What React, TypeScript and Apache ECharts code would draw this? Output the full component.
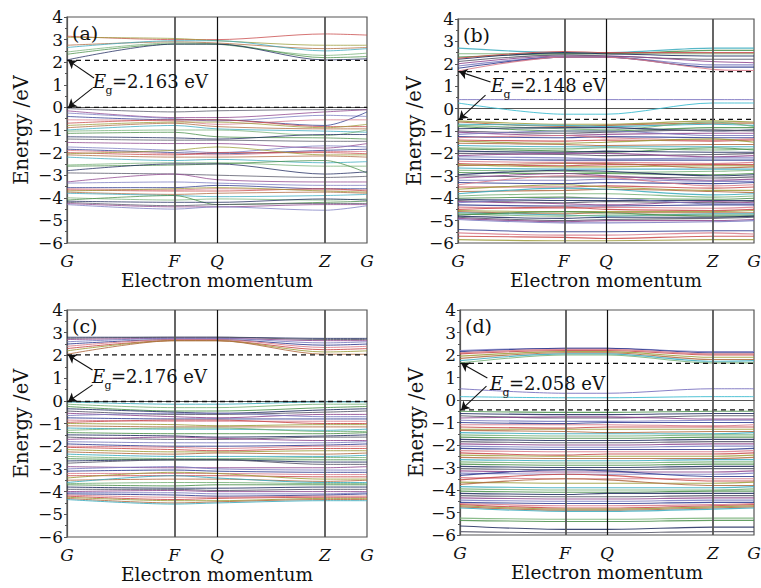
import React, { useEffect, useRef } from "react";
import * as echarts from "echarts";

// ---------- data ----------
const kPoints = [0, 0.357, 0.5, 0.86, 1];
const kLabels = ["G", "F", "Q", "Z", "G"];
const panelTags = ["(a)", "(b)", "(c)", "(d)"];
const gapValues = ["2.163", "2.148", "2.176", "2.058"];
const vbmValues = [0, -0.48, -0.03, -0.44];
const cbmValues = [2.08, 1.65, 2.02, 1.63];

// bands: energies at G, F, Q, Z, G
const cbA = [
  [3.15, 3.0, 3.0, 3.25, 3.2], [3.1, 3.05, 2.95, 2.75, 2.75], [2.75, 2.9, 2.85, 2.6, 2.65],
  [2.65, 2.95, 2.95, 2.5, 2.6], [2.45, 2.85, 2.8, 2.3, 2.4], [2.35, 2.8, 2.8, 2.2, 2.25],
  [2.1, 2.8, 2.8, 2.1, 2.15],
];
const vbA = [
  [-0.05, -0.2, -0.15, -0.1, -0.1], [-0.15, -0.45, -0.45, -0.2, -0.1], [-0.25, -0.5, -0.6, -0.35, -0.4],
  [-0.4, -0.55, -0.55, -0.8, -0.2], [-0.55, -0.6, -0.75, -0.55, -0.55], [-0.7, -0.55, -0.55, -0.85, -0.85],
  [-0.8, -0.65, -0.65, -0.9, -0.75], [-0.9, -0.7, -0.85, -0.95, -0.95], [-1.0, -0.8, -0.95, -1.05, -1.1],
  [-1.05, -1.0, -1.0, -1.25, -1.0], [-1.15, -1.1, -1.3, -1.35, -1.4], [-1.3, -1.35, -1.4, -1.2, -1.2],
  [-1.4, -1.45, -1.45, -1.5, -1.5], [-1.55, -1.6, -1.6, -1.8, -1.6], [-1.75, -1.9, -2.0, -1.7, -1.75],
  [-1.85, -2.0, -2.05, -1.9, -1.85], [-1.9, -2.05, -2.1, -1.95, -1.95], [-2.0, -2.1, -2.0, -2.0, -2.05],
  [-2.05, -1.9, -1.75, -2.1, -2.1], [-2.1, -2.2, -2.2, -2.15, -2.2], [-2.2, -2.35, -2.3, -2.45, -2.4],
  [-2.55, -2.45, -2.45, -2.6, -2.6], [-2.6, -2.55, -2.5, -2.35, -2.9], [-2.8, -2.5, -2.5, -2.95, -2.85],
  [-2.9, -2.95, -3.0, -3.1, -3.05], [-3.3, -2.95, -3.2, -3.3, -3.3], [-3.35, -3.3, -3.35, -3.45, -3.45],
  [-3.55, -3.55, -3.45, -3.6, -3.6], [-3.6, -3.65, -3.6, -3.65, -3.65], [-3.65, -3.7, -3.7, -3.6, -3.7],
  [-3.7, -3.6, -3.55, -3.7, -3.75], [-3.75, -3.85, -3.8, -3.75, -3.8], [-3.8, -3.9, -3.95, -3.9, -3.85],
  [-4.0, -4.1, -4.05, -4.1, -4.05], [-4.1, -3.9, -4.3, -4.2, -4.15], [-4.15, -4.2, -4.2, -4.05, -4.1],
  [-4.2, -4.35, -4.3, -4.25, -4.25], [-4.25, -4.4, -4.4, -4.3, -4.3], [-4.3, -4.5, -4.4, -4.55, -4.35],
];
const cbB = [
  [2.7, 2.5, 2.5, 2.7, 2.7], [2.45, 2.45, 2.45, 2.45, 2.45], [2.3, 2.45, 2.45, 2.6, 2.6],
  [2.2, 2.5, 2.45, 2.35, 2.35], [2.1, 2.4, 2.35, 2.2, 2.2], [2.0, 2.35, 2.35, 2.1, 2.05],
  [1.9, 2.3, 2.3, 1.95, 1.95], [1.8, 2.3, 2.3, 1.85, 1.85], [1.68, 2.3, 2.3, 1.75, 1.7],
  [2.25, 2.55, 2.5, 2.5, 2.5],
];
const gapB = [[0.4, 0.4, 0.4, 0.4, 0.4], [0.25, -0.25, -0.25, 0.25, 0.25]];
const vbB = [
  [-0.55, -0.7, -0.7, -0.55, -0.6], [-0.6, -0.8, -0.75, -0.65, -0.65], [-0.7, -0.75, -0.8, -0.7, -0.75],
  [-0.75, -0.9, -0.95, -0.6, -0.8], [-0.8, -1.0, -1.0, -0.85, -0.85], [-0.9, -0.85, -0.85, -1.0, -0.95],
  [-1.0, -1.1, -1.05, -0.95, -1.0], [-1.05, -1.2, -1.15, -1.1, -1.1], [-1.15, -1.0, -1.0, -1.2, -1.2],
  [-1.25, -1.3, -1.25, -1.3, -1.3], [-1.3, -1.2, -1.3, -1.4, -1.35], [-1.4, -1.45, -1.4, -1.45, -1.4],
  [-1.45, -1.55, -1.5, -1.35, -1.5], [-1.55, -1.6, -1.65, -1.6, -1.6], [-1.65, -1.7, -1.7, -1.7, -1.7],
  [-1.75, -1.8, -1.75, -1.85, -1.8], [-1.8, -1.9, -1.95, -1.75, -1.85], [-1.9, -1.95, -1.9, -1.95, -1.95],
  [-2.0, -2.05, -2.1, -2.05, -2.0], [-2.1, -2.0, -2.0, -2.15, -2.1], [-2.15, -2.2, -2.25, -2.2, -2.2],
  [-2.25, -2.3, -2.3, -2.3, -2.3], [-2.35, -2.4, -2.4, -2.45, -2.4], [-2.45, -2.55, -2.5, -2.5, -2.5],
  [-2.5, -2.6, -2.6, -2.55, -2.55], [-2.55, -2.45, -2.45, -2.65, -2.6], [-2.65, -2.7, -2.7, -2.7, -2.7],
  [-2.75, -2.8, -2.85, -2.8, -2.75], [-2.85, -2.9, -2.9, -2.95, -2.9], [-2.95, -2.75, -2.8, -3.0, -2.95],
  [-3.0, -3.05, -3.05, -3.1, -3.05], [-3.1, -2.9, -3.0, -3.2, -3.15], [-3.2, -3.2, -3.15, -3.25, -3.25],
  [-3.3, -3.35, -3.3, -3.35, -3.3], [-3.4, -3.0, -3.05, -3.45, -3.4], [-3.5, -3.5, -3.45, -3.55, -3.5],
  [-3.6, -3.4, -3.5, -3.65, -3.65], [-3.7, -3.65, -3.6, -3.7, -3.75], [-3.8, -3.55, -3.6, -3.85, -3.8],
  [-3.9, -3.8, -3.8, -3.95, -3.9], [-4.0, -3.95, -4.0, -4.05, -4.0], [-4.05, -4.1, -4.1, -4.1, -4.1],
  [-4.1, -4.2, -4.15, -4.2, -4.15], [-4.15, -4.25, -4.3, -4.15, -4.2], [-4.2, -4.0, -4.0, -4.25, -4.25],
  [-4.3, -4.35, -4.35, -4.3, -4.3], [-4.4, -4.45, -4.4, -4.45, -4.4], [-4.5, -4.4, -4.5, -4.55, -4.5],
  [-4.55, -4.6, -4.6, -4.6, -4.55], [-4.6, -4.7, -4.65, -4.65, -4.65], [-4.65, -4.75, -4.8, -4.7, -4.7],
  [-4.7, -4.8, -4.75, -4.75, -4.75], [-4.75, -4.6, -4.65, -4.8, -4.8], [-4.8, -4.9, -4.85, -4.85, -4.8],
  [-4.85, -5.0, -4.95, -4.9, -4.85], [-4.9, -5.05, -5.0, -5.0, -4.95], [-4.95, -5.1, -5.1, -5.05, -5.0],
  [-5.4, -5.5, -5.5, -5.45, -5.45], [-5.55, -5.65, -5.65, -5.55, -5.6], [-5.7, -5.75, -5.8, -5.7, -5.7],
  [-5.85, -5.9, -5.9, -5.85, -5.85],
];
const cbC = [
  [2.8, 2.8, 2.8, 2.75, 2.75], [2.75, 2.8, 2.8, 2.7, 2.7], [2.7, 2.75, 2.75, 2.65, 2.65],
  [2.6, 2.75, 2.75, 2.55, 2.6], [2.5, 2.7, 2.7, 2.45, 2.5], [2.4, 2.7, 2.7, 2.35, 2.4],
  [2.3, 2.65, 2.65, 2.25, 2.3], [2.2, 2.65, 2.65, 2.15, 2.2], [2.05, 2.65, 2.65, 2.05, 2.05],
];
const vbC = [
  [-0.05, -0.15, -0.15, -0.05, -0.05], [-0.15, -0.3, -0.3, -0.15, -0.15], [-0.25, -0.45, -0.45, -0.3, -0.25],
  [-0.35, -0.5, -0.55, -0.4, -0.35], [-0.45, -0.6, -0.6, -0.5, -0.45], [-0.55, -0.7, -0.75, -0.6, -0.6],
  [-0.65, -0.55, -0.55, -0.7, -0.7], [-0.75, -0.8, -0.8, -0.8, -0.8], [-0.85, -0.9, -0.9, -0.9, -0.9],
  [-0.95, -0.85, -0.85, -1.0, -1.0], [-1.0, -1.05, -1.1, -1.05, -1.05], [-1.1, -1.15, -1.15, -1.15, -1.15],
  [-1.2, -1.25, -1.25, -1.3, -1.25], [-1.3, -1.2, -1.2, -1.35, -1.35], [-1.4, -1.45, -1.45, -1.45, -1.4],
  [-1.5, -1.55, -1.6, -1.55, -1.5], [-1.6, -1.7, -1.7, -1.6, -1.6], [-1.7, -1.6, -1.65, -1.75, -1.75],
  [-1.8, -1.85, -1.85, -1.85, -1.8], [-1.9, -2.0, -2.0, -1.95, -1.9], [-2.0, -2.05, -2.1, -2.0, -2.0],
  [-2.05, -2.15, -2.2, -2.1, -2.1], [-2.15, -2.25, -2.25, -2.2, -2.2], [-2.25, -2.35, -2.3, -2.35, -2.3],
  [-2.35, -2.45, -2.45, -2.45, -2.4], [-2.45, -2.55, -2.55, -2.5, -2.5], [-2.55, -2.6, -2.6, -2.6, -2.6],
  [-2.65, -2.6, -2.6, -2.7, -2.7], [-2.75, -2.6, -2.6, -2.8, -2.8], [-2.9, -2.95, -2.95, -2.95, -2.9],
  [-3.0, -2.9, -3.0, -3.05, -3.05], [-3.1, -3.05, -3.1, -3.15, -3.15], [-3.2, -3.2, -3.2, -3.25, -3.25],
  [-3.3, -3.3, -3.3, -3.35, -3.35], [-3.4, -3.15, -3.2, -3.45, -3.45], [-3.5, -3.45, -3.45, -3.55, -3.5],
  [-3.6, -3.3, -3.4, -3.6, -3.6], [-3.65, -3.6, -3.6, -3.65, -3.65], [-3.7, -3.75, -3.7, -3.7, -3.7],
  [-3.8, -3.85, -3.85, -3.8, -3.8], [-3.9, -3.9, -3.95, -3.9, -3.9], [-4.0, -3.95, -4.0, -4.0, -4.0],
  [-4.05, -4.05, -4.1, -4.1, -4.05], [-4.1, -4.15, -4.2, -4.15, -4.1], [-4.15, -4.25, -4.25, -4.2, -4.2],
  [-4.2, -4.35, -4.3, -4.25, -4.25], [-4.25, -4.4, -4.4, -4.3, -4.3], [-4.3, -4.5, -4.45, -4.35, -4.35],
  [-4.35, -4.55, -4.5, -4.4, -4.4],
];
const cbD = [
  [2.2, 2.3, 2.3, 2.15, 2.15], [2.15, 2.3, 2.3, 2.1, 2.1], [2.1, 2.25, 2.25, 2.05, 2.05],
  [2.05, 2.2, 2.2, 2.0, 2.0], [1.95, 2.15, 2.15, 1.9, 1.9], [1.85, 2.1, 2.1, 1.8, 1.8],
  [1.75, 2.05, 2.05, 1.72, 1.75], [1.65, 2.0, 2.0, 1.65, 1.65],
];
const gapD = [[0.5, 0.3, 0.3, 0.5, 0.5], [0.15, 0.1, 0.1, 0.15, 0.15]];
const vbD = [
  [-0.5, -0.55, -0.55, -0.5, -0.5], [-0.6, -0.65, -0.65, -0.6, -0.6], [-0.7, -0.8, -0.8, -0.7, -0.7],
  [-0.8, -0.75, -0.75, -0.85, -0.85], [-0.9, -0.95, -0.95, -0.9, -0.9], [-1.0, -1.05, -1.0, -1.0, -1.0],
  [-1.1, -1.1, -1.1, -1.15, -1.1], [-1.2, -1.25, -1.2, -1.2, -1.2], [-1.3, -1.3, -1.3, -1.3, -1.3],
  [-1.35, -1.4, -1.45, -1.4, -1.4], [-1.45, -1.5, -1.5, -1.5, -1.45], [-1.55, -1.6, -1.6, -1.55, -1.55],
  [-1.65, -1.7, -1.7, -1.65, -1.65], [-1.75, -1.8, -1.8, -1.75, -1.75], [-1.85, -1.9, -1.9, -1.85, -1.85],
  [-1.95, -2.0, -2.0, -1.95, -1.95], [-2.05, -2.1, -2.1, -2.05, -2.05], [-2.15, -2.2, -2.2, -2.2, -2.15],
  [-2.25, -2.3, -2.3, -2.3, -2.25], [-2.35, -2.45, -2.4, -2.4, -2.35], [-2.45, -2.5, -2.5, -2.5, -2.45],
  [-2.55, -2.6, -2.6, -2.6, -2.55], [-2.65, -2.7, -2.7, -2.65, -2.65], [-2.75, -2.8, -2.8, -2.75, -2.75],
  [-2.85, -2.9, -2.9, -2.85, -2.85], [-2.95, -3.0, -3.0, -2.95, -2.95], [-3.05, -3.1, -3.1, -3.05, -3.05],
  [-3.15, -3.2, -3.2, -3.2, -3.15], [-3.25, -3.3, -3.3, -3.3, -3.25], [-3.35, -3.1, -3.15, -3.4, -3.4],
  [-3.45, -3.5, -3.5, -3.5, -3.5], [-3.55, -3.3, -3.35, -3.6, -3.6], [-3.65, -3.7, -3.7, -3.7, -3.65],
  [-3.75, -3.5, -3.55, -3.8, -3.8], [-3.85, -3.9, -3.9, -3.9, -3.85], [-3.95, -4.0, -4.0, -4.0, -3.95],
  [-4.05, -4.1, -4.1, -4.05, -4.05], [-4.15, -4.2, -4.15, -4.15, -4.15], [-4.25, -4.3, -4.3, -4.25, -4.25],
  [-4.35, -4.4, -4.4, -4.35, -4.35], [-4.45, -4.5, -4.5, -4.45, -4.45], [-4.55, -4.6, -4.6, -4.55, -4.55],
  [-4.6, -4.7, -4.7, -4.65, -4.6], [-4.65, -4.8, -4.8, -4.7, -4.65], [-4.7, -4.85, -4.85, -4.75, -4.7],
  [-4.75, -4.9, -4.9, -4.8, -4.75], [-4.8, -4.95, -4.95, -4.85, -4.8], [-5.25, -5.3, -5.3, -5.25, -5.25],
  [-5.35, -5.4, -5.4, -5.35, -5.35], [-5.6, -5.75, -5.75, -5.65, -5.65], [-5.85, -5.9, -5.9, -5.85, -5.85],
];

const panelBands = [
  [...cbA, ...vbA],
  [...cbB, ...vbB],
  [...cbC, ...vbC],
  [...cbD, ...vbD],
];
const panelGapStates = [[], gapB, [], gapD];

// ---------- layout / style ----------
const FONT = "DejaVu Serif";
const grids = [
  { left: 67, top: 17, width: 300, height: 226, nameGapY: 36, lw: 0.9 },
  { left: 458, top: 19, width: 296, height: 224, nameGapY: 34, lw: 1.1 },
  { left: 67, top: 310, width: 300, height: 227, nameGapY: 36, lw: 1.0 },
  { left: 460, top: 310, width: 294, height: 225, nameGapY: 34, lw: 1.1 },
];
// arrow tails (data coords) for upper and lower arrows
const arrowTails = [
  [[0.09, 1.3], [0.085, 0.85]],
  [[0.11, 1.19], [0.093, 0.6]],
  [[0.085, 1.36], [0.085, 0.7]],
  [[0.093, 0.98], [0.09, 0.62]],
];
const eTextPos = [
  [93, 81], [491, 85], [92, 376], [490, 383],
];
const palette = [
  "#c84848", "#4a8f4a", "#2e3a8e", "#3aaabd", "#8e468e", "#9c9c3a",
  "#1f2a5e", "#d87a8a", "#76b076", "#7a7ac0", "#b06a40", "#555566",
];
const gapColors = ["#7a72c0", "#40bcd0"];

function txt(text: string, x: number, y: number, size: number, italic = false) {
  return {
    type: "text",
    x,
    y,
    z: 10,
    style: {
      text,
      fontFamily: FONT,
      fontSize: size,
      fontStyle: italic ? "italic" : "normal",
      fill: "#111",
      verticalAlign: "middle",
    },
  };
}

function buildOption() {
  const series: any[] = [];
  const graphic: any[] = [];
  grids.forEach((g, i) => {
    panelBands[i].forEach((band, j) => {
      series.push({
        type: "line",
        xAxisIndex: i,
        yAxisIndex: i,
        data: band.map((e, k) => [kPoints[k], e]),
        symbol: "none",
        smooth: 0.3,
        silent: true,
        z: 2,
        lineStyle: { width: g.lw, color: palette[(j * 5 + i * 3) % palette.length], opacity: 0.85 },
      });
    });
    panelGapStates[i].forEach((band, j) => {
      series.push({
        type: "line",
        xAxisIndex: i,
        yAxisIndex: i,
        data: band.map((e, k) => [kPoints[k], e]),
        symbol: "none",
        smooth: 0.3,
        silent: true,
        z: 2,
        lineStyle: { width: 1, color: gapColors[j], opacity: 0.9 },
      });
    });
    [vbmValues[i], cbmValues[i]].forEach((e) => {
      series.push({
        type: "line",
        xAxisIndex: i,
        yAxisIndex: i,
        data: [[0, e], [1, e]],
        symbol: "none",
        silent: true,
        z: 4,
        lineStyle: { width: 1.3, color: "#111", type: [5, 4] },
      });
    });
    const tails = arrowTails[i];
    series.push({
      type: "line",
      xAxisIndex: i,
      yAxisIndex: i,
      data: [],
      silent: true,
      z: 5,
      markLine: {
        silent: true,
        symbol: "none",
        symbolSize: 8,
        label: { show: false },
        data: [
          ...kPoints.slice(1, 4).map((x, k) => ({
            xAxis: x,
            lineStyle: { color: k === 1 ? "#111" : "#555", width: k === 1 ? 1.2 : 1.8, type: "solid" },
          })),
          [
            { coord: tails[0], symbol: "none", lineStyle: { color: "#111", width: 1.1, type: "solid" } },
            { coord: [0.004, cbmValues[i]], symbol: "arrow" },
          ],
          [
            { coord: tails[1], symbol: "none", lineStyle: { color: "#111", width: 1.1, type: "solid" } },
            { coord: [0.004, vbmValues[i]], symbol: "arrow" },
          ],
        ],
      },
    });
    const [ex, ey] = eTextPos[i];
    graphic.push(
      txt("E", ex, ey, 18, true),
      txt("g", ex + 12.5, ey + 9, 11),
      txt(`=${gapValues[i]} eV`, ex + 19, ey, 18),
      txt(panelTags[i], g.left + 5, g.top + 16, 19)
    );
  });

  return {
    animation: false,
    backgroundColor: "#fff",
    textStyle: { fontFamily: FONT },
    grid: grids.map((g) => ({
      left: g.left, top: g.top, width: g.width, height: g.height,
      show: true, borderColor: "#555", borderWidth: 1.2,
      outerBoundsMode: "none", containLabel: false,
    })),
    xAxis: grids.map((g, i) => ({
      type: "value",
      gridIndex: i,
      min: 0,
      max: 1,
      name: "Electron momentum",
      nameLocation: "middle",
      nameGap: 28,
      nameTextStyle: { fontFamily: FONT, fontSize: 18.5, color: "#111" },
      axisLine: { show: true, lineStyle: { color: "#555", width: 1.2 } },
      axisTick: { show: false },
      splitLine: { show: false },
      axisLabel: {
        customValues: kPoints,
        formatter: (v: number) => kLabels[kPoints.findIndex((p) => Math.abs(p - v) < 1e-6)] ?? "",
        fontFamily: FONT,
        fontStyle: "italic",
        fontSize: 17,
        color: "#111",
        margin: 9,
        hideOverlap: false,
        showMinLabel: true,
        showMaxLabel: true,
      },
    })),
    yAxis: grids.map((g, i) => ({
      type: "value",
      gridIndex: i,
      min: -6,
      max: 4,
      interval: 1,
      name: "Energy /eV",
      nameLocation: "middle",
      nameGap: g.nameGapY,
      nameTextStyle: { fontFamily: FONT, fontSize: 19.5, color: "#111" },
      axisLine: { show: true, lineStyle: { color: "#555", width: 1.2 } },
      axisTick: { show: true, length: 3, lineStyle: { color: "#555" } },
      minorTick: { show: true, splitNumber: 2, length: 2, lineStyle: { color: "#555" } },
      splitLine: { show: false },
      axisLabel: {
        fontFamily: FONT,
        fontSize: 17,
        color: "#111",
        margin: 4,
        formatter: (v: number) => (v < 0 ? "\u2212" + Math.abs(v) : String(v)),
      },
    })),
    series,
    graphic,
  };
}

export default function App() {
  const ref = useRef<HTMLDivElement>(null);
  useEffect(() => {
    document.body.style.margin = "0";
    if (!ref.current) return;
    const chart = echarts.init(ref.current, undefined, { renderer: "svg" });
    chart.setOption(buildOption() as any);
    return () => chart.dispose();
  }, []);
  return <div ref={ref} style={{ width: 761, height: 588 }} />;
}
